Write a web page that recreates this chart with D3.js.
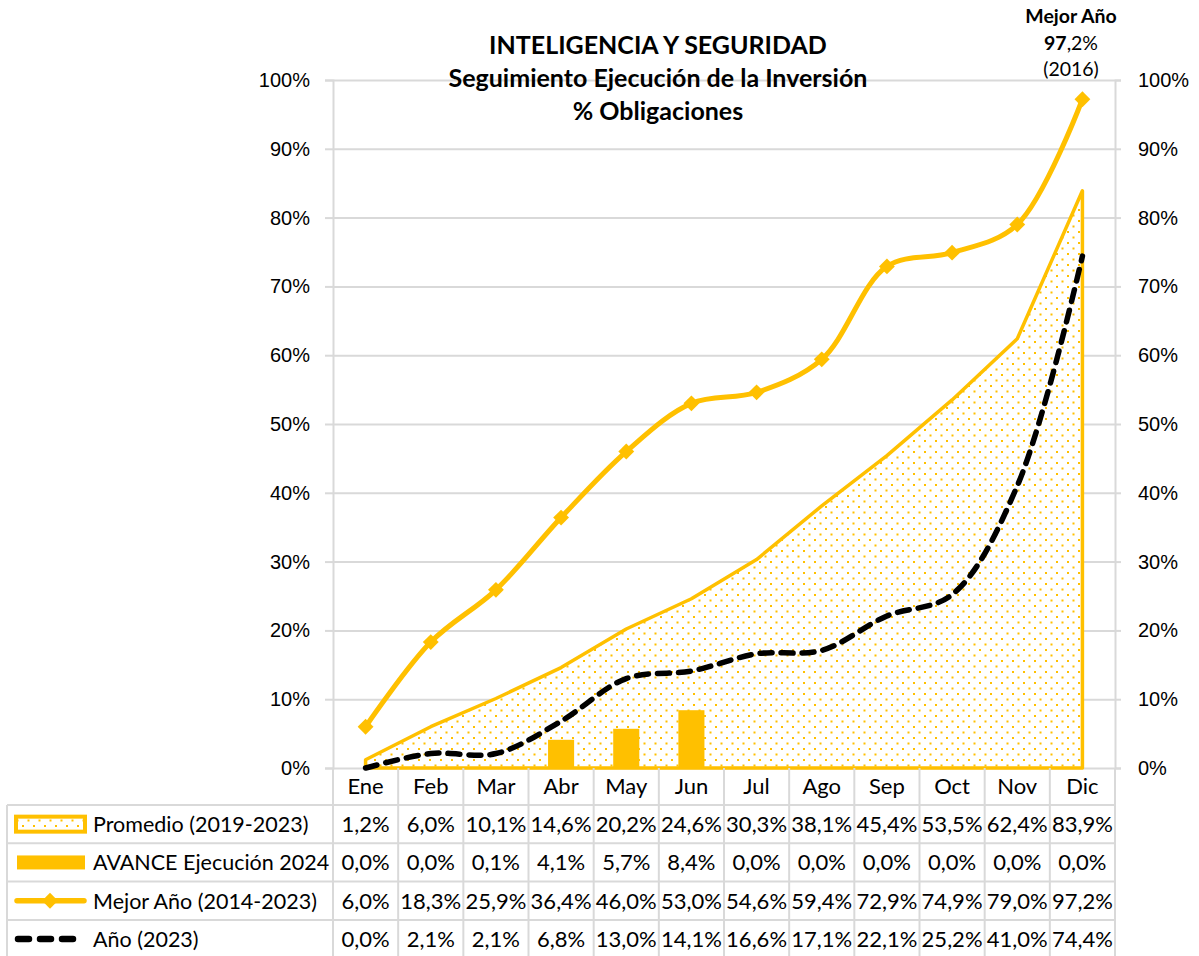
<!DOCTYPE html>
<html>
<head>
<meta charset="utf-8">
<script src="https://cdn.jsdelivr.net/npm/d3@7"></script>
<style>
  body { margin: 0; background: #fff; }
  svg { font-family: Lato, "Liberation Sans", sans-serif; }
</style>
</head>
<body>
<div id="chart"></div>
<script>
// Data
const months = ["Ene", "Feb", "Mar", "Abr", "May", "Jun", "Jul", "Ago", "Sep", "Oct", "Nov", "Dic"];
const promedio = [1.2, 6.0, 10.1, 14.6, 20.2, 24.6, 30.3, 38.1, 45.4, 53.5, 62.4, 83.9];
const avance2024 = [0.0, 0.0, 0.1, 4.1, 5.7, 8.4, 0.0, 0.0, 0.0, 0.0, 0.0, 0.0];
const mejorAnio = [6.0, 18.3, 25.9, 36.4, 46.0, 53.0, 54.6, 59.4, 72.9, 74.9, 79.0, 97.2];
const anio2023 = [0.0, 2.1, 2.1, 6.8, 13.0, 14.1, 16.6, 17.1, 22.1, 25.2, 41.0, 74.4];
const yTicks = [0, 10, 20, 30, 40, 50, 60, 70, 80, 90, 100];
const seriesNames = ["Promedio (2019-2023)", "AVANCE Ejecución 2024", "Mejor Año (2014-2023)", "Año (2023)"];
const titleLines = ["INTELIGENCIA Y SEGURIDAD", "Seguimiento Ejecución de la Inversión", "% Obligaciones"];

const width = 1199;
const height = 956;
const plot = { left: 333, right: 1115, top: 80, bottom: 768 };
const orange = "#FFC000";
const grid = "#d9d9d9";
const fmt = (v) => v.toFixed(1).replace(".", ",") + "%";

const svg = d3
  .select("#chart")
  .append("svg")
  .attr("width", width)
  .attr("height", height);

// pattern for the dotted area
const defs = svg.append("defs");
const pat = defs
  .append("pattern")
  .attr("id", "dots")
  .attr("patternUnits", "userSpaceOnUse")
  .attr("width", 11)
  .attr("height", 11);
pat.append("rect").attr("width", 11).attr("height", 11).attr("fill", "#fff");
pat.append("rect").attr("x", 0).attr("y", 0).attr("width", 2).attr("height", 2).attr("fill", orange);
pat.append("rect").attr("x", 5.5).attr("y", 5.5).attr("width", 2).attr("height", 2).attr("fill", orange);

// scales
const x = d3.scaleBand().domain(months).range([plot.left, plot.right]).padding(0);
const cx = (m) => x(m) + x.bandwidth() / 2;
const y = d3.scaleLinear().domain([0, 100]).range([plot.bottom, plot.top]);

// gridlines
svg
  .append("g")
  .attr("class", "grid")
  .attr("transform", `translate(${plot.left},0)`)
  .call(d3.axisLeft(y).tickValues(yTicks).tickSize(-(plot.right - plot.left)).tickFormat(""))
  .call((g) => g.select(".domain").remove())
  .call((g) => g.selectAll("line").attr("stroke", grid).attr("stroke-width", 2));

// left axis
svg
  .append("g")
  .attr("class", "y-axis")
  .attr("transform", `translate(${plot.left},0)`)
  .call(d3.axisLeft(y).tickValues(yTicks).tickSize(8).tickPadding(15).tickFormat((d) => d + "%"))
  .call((g) => g.select(".domain").attr("stroke", grid).attr("stroke-width", 2))
  .call((g) => g.selectAll("line").attr("stroke", grid).attr("stroke-width", 2))
  .call((g) => g.selectAll("text").attr("font-size", 20).attr("fill", "#000"));

// right axis
svg
  .append("g")
  .attr("class", "y-axis-right")
  .attr("transform", `translate(${plot.right},0)`)
  .call(d3.axisRight(y).tickValues(yTicks).tickSize(6).tickPadding(17).tickFormat((d) => d + "%"))
  .call((g) => g.select(".domain").attr("stroke", grid).attr("stroke-width", 2))
  .call((g) => g.selectAll("line").attr("stroke", grid).attr("stroke-width", 2))
  .call((g) => g.selectAll("text").attr("font-size", 20).attr("fill", "#000"));

// area Promedio
const areaData = months.map((m, i) => ({ m, v: promedio[i] }));
const area = d3
  .area()
  .x((d) => cx(d.m))
  .y0(y(0))
  .y1((d) => y(d.v));
svg
  .append("path")
  .datum(areaData)
  .attr("d", area)
  .attr("fill", "url(#dots)")
  .attr("stroke", orange)
  .attr("stroke-width", 3.5)
  .attr("stroke-linejoin", "round");

// bars
svg
  .append("g")
  .selectAll("rect")
  .data(months.map((m, i) => ({ m, v: avance2024[i] })))
  .join("rect")
  .attr("x", (d) => cx(d.m) - x.bandwidth() * 0.2)
  .attr("width", x.bandwidth() * 0.4)
  .attr("y", (d) => y(d.v))
  .attr("height", (d) => y(0) - y(d.v))
  .attr("fill", orange);

// Mejor Año line
const bestData = months.map((m, i) => ({ m, v: mejorAnio[i] }));
const smooth = d3
  .line()
  .x((d) => cx(d.m))
  .y((d) => y(d.v))
  .curve(d3.curveCatmullRom.alpha(0.5));
svg
  .append("path")
  .datum(bestData)
  .attr("d", smooth)
  .attr("fill", "none")
  .attr("stroke", orange)
  .attr("stroke-width", 5);
svg
  .append("g")
  .selectAll("path")
  .data(bestData)
  .join("path")
  .attr("d", d3.symbol(d3.symbolDiamond2, 160))
  .attr("transform", (d) => `translate(${cx(d.m)},${y(d.v)})`)
  .attr("fill", orange);

// Año 2023 dashed
const yearData = months.map((m, i) => ({ m, v: anio2023[i] }));
svg
  .append("path")
  .datum(yearData)
  .attr("d", smooth)
  .attr("fill", "none")
  .attr("stroke", "#000")
  .attr("stroke-width", 5.5)
  .attr("stroke-dasharray", "12,9")
  .attr("stroke-linecap", "round");

// title
svg
  .append("text")
  .attr("text-anchor", "middle")
  .attr("font-weight", "bold")
  .attr("font-size", 25)
  .selectAll("tspan")
  .data(titleLines)
  .join("tspan")
  .attr("x", 658)
  .attr("y", (d, i) => 54 + i * 33)
  .text((d) => d);

// annotation for best year
const annX = 1071;
const ann = svg
  .append("text")
  .attr("text-anchor", "middle")
  .attr("font-size", 19.5);
ann.append("tspan").attr("x", annX).attr("y", 23).attr("font-weight", "bold").text("Mejor Año");
const t2 = ann.append("tspan").attr("x", annX).attr("y", 50);
t2.append("tspan").attr("font-weight", "bold").text("97");
t2.append("tspan").text(",2%");
ann.append("tspan").attr("x", annX).attr("y", 76).text("(2016)");

// data table
const rowTop = 805;
const rowH = 38.3;
const tableLeft = 7;
const table = svg.append("g").attr("class", "table");

// vertical lines
months.concat([null]).forEach((m, i) => {
  const xx = plot.left + i * x.bandwidth();
  table
    .append("line")
    .attr("x1", xx)
    .attr("x2", xx)
    .attr("y1", plot.bottom)
    .attr("y2", height)
    .attr("stroke", grid)
    .attr("stroke-width", 2);
});
table
  .append("line")
  .attr("x1", tableLeft)
  .attr("x2", tableLeft)
  .attr("y1", rowTop)
  .attr("y2", height)
  .attr("stroke", grid)
  .attr("stroke-width", 2);
for (let r = 0; r <= 4; r++) {
  table
    .append("line")
    .attr("x1", tableLeft)
    .attr("x2", plot.right)
    .attr("y1", rowTop + r * rowH)
    .attr("y2", rowTop + r * rowH)
    .attr("stroke", grid)
    .attr("stroke-width", 2);
}

// header labels
table
  .selectAll("text.month")
  .data(months)
  .join("text")
  .attr("class", "month")
  .attr("x", (d) => cx(d))
  .attr("y", 794)
  .attr("text-anchor", "middle")
  .attr("font-size", 22)
  .text((d) => d);

const rows = [promedio, avance2024, mejorAnio, anio2023];
rows.forEach((vals, r) => {
  const rowY = rowTop + r * rowH + rowH / 2 + 8;
  table
    .append("g")
    .selectAll("text")
    .data(vals)
    .join("text")
    .attr("x", (d, i) => cx(months[i]))
    .attr("y", rowY)
    .attr("text-anchor", "middle")
    .attr("font-size", 22)
    .text((d) => fmt(d));
  table
    .append("text")
    .attr("x", 93)
    .attr("y", rowY)
    .attr("font-size", 21.5)
    .text(seriesNames[r]);
});

// legend keys
const keyY = (r) => rowTop + r * rowH + rowH / 2;
table
  .append("rect")
  .attr("x", 16)
  .attr("y", keyY(0) - 7.5)
  .attr("width", 69)
  .attr("height", 15)
  .attr("fill", "url(#dots)")
  .attr("stroke", orange)
  .attr("stroke-width", 4);
table
  .append("rect")
  .attr("x", 17)
  .attr("y", keyY(1) - 7)
  .attr("width", 68)
  .attr("height", 14)
  .attr("fill", orange);
table
  .append("line")
  .attr("x1", 17)
  .attr("x2", 84)
  .attr("y1", keyY(2))
  .attr("y2", keyY(2))
  .attr("stroke", orange)
  .attr("stroke-width", 5.5)
  .attr("stroke-linecap", "round");
table
  .append("path")
  .attr("d", d3.symbol(d3.symbolDiamond2, 160))
  .attr("transform", `translate(50,${keyY(2)})`)
  .attr("fill", orange);
table
  .append("line")
  .attr("x1", 18)
  .attr("x2", 77)
  .attr("y1", keyY(3))
  .attr("y2", keyY(3))
  .attr("stroke", "#000")
  .attr("stroke-width", 6.5)
  .attr("stroke-dasharray", "11,11")
  .attr("stroke-linecap", "round");
</script>
</body>
</html>
